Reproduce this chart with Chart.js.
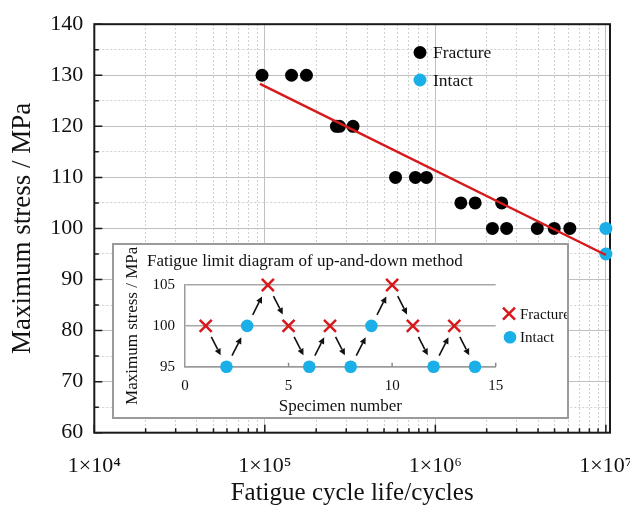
<!DOCTYPE html>
<html><head><meta charset="utf-8">
<script src="https://cdn.jsdelivr.net/npm/chart.js@4.4.1/dist/chart.umd.min.js"></script>
<style>
html,body{margin:0;padding:0;background:#fff;}
#wrap{position:relative;width:630px;height:513px;overflow:hidden;}
#main{position:absolute;left:0;top:0;}
#insetBox{position:absolute;left:112px;top:243px;width:453px;height:172px;border:2px solid #9a9a9a;background:#fff;}
#inset{position:absolute;left:0;top:0;}
</style></head>
<body>
<div id="wrap">
<canvas id="main" width="630" height="513"></canvas>
<div id="insetBox"><canvas id="inset" width="453" height="172"></canvas></div>
</div>
<script>
// ---------- main S-N data ----------
const fractureCycles = [9.63e4, 1.434e5, 1.754e5, 2.63e5, 2.74e5, 3.29e5, 5.84e5, 7.64e5, 8.86e5, 1.411e6, 1.712e6, 2.449e6, 2.161e6, 2.618e6, 3.96e6, 4.977e6, 6.145e6];
const fractureStress = [130, 130, 130, 120, 120, 120, 110, 110, 110, 105, 105, 105, 100, 100, 100, 100, 100];
const intactCycles = [1e7, 1e7];
const intactStress = [100, 95];
const fitCycles = [9.37e4, 1e7];
const fitStress = [128.3, 94.8];
const xTickLabels = {4: '1×10⁴', 5: '1×10⁵', 6: '1×10⁶', 7: '1×10⁷'};
const yTickValues = [60, 70, 80, 90, 100, 110, 120, 130, 140];

// ---------- inset up-and-down data ----------
const specimenNo = [1, 2, 3, 4, 5, 6, 7, 8, 9, 10, 11, 12, 13, 14];
const udStress = [100, 95, 100, 105, 100, 95, 100, 95, 100, 105, 100, 95, 100, 95];
const udResult = ['F', 'I', 'I', 'F', 'F', 'I', 'F', 'I', 'I', 'F', 'F', 'I', 'F', 'I'];
const insetXTicks = [0, 5, 10, 15];
const insetYTicks = [95, 100, 105];

const serif = "'Liberation Serif','Times New Roman',serif";
const BLUE = '#1aafe6';
const RED = '#d7191c';
const TXT = '#111';

function decadeInfo(v) {
  const e = Math.floor(Math.log10(v) + 1e-9);
  const s = v / Math.pow(10, e);
  const major = Math.abs(s - 1) < 1e-6;
  const minor = !major && Math.abs(s - Math.round(s)) < 1e-6;
  return {e, major, minor};
}

const mainFrame = {
  id: 'mainFrame',
  beforeDatasetsDraw(chart) {
    const {ctx, chartArea: a, scales} = chart;
    ctx.save();
    ctx.strokeStyle = '#1a1a1a';
    ctx.lineWidth = 1.5;
    ctx.beginPath();
    scales.xMinor.ticks.forEach(t => {
      const d = decadeInfo(t.value);
      if (!d.major && !d.minor) return;
      const px = scales.x.getPixelForValue(t.value);
      const len = d.major ? 8 : 4.5;
      ctx.moveTo(px, a.bottom); ctx.lineTo(px, a.bottom - len);
    });
    scales.yMinor.ticks.forEach(t => {
      const py = scales.y.getPixelForValue(t.value);
      const len = (t.value % 10 === 0) ? 8 : 4.5;
      ctx.moveTo(a.left, py); ctx.lineTo(a.left + len, py);
    });
    ctx.stroke();
    ctx.lineWidth = 2;
    ctx.strokeRect(a.left, a.top, a.right - a.left, a.bottom - a.top);
    ctx.restore();
  },
  afterDatasetsDraw(chart) {
    const {ctx} = chart;
    const ds = chart.data.datasets;
    const items = [ds[1], ds[2]];
    ctx.save();
    ctx.font = '17.5px ' + serif;
    ctx.textBaseline = 'middle';
    ctx.textAlign = 'left';
    items.forEach((d, i) => {
      const y = 52.5 + i * 27.5;
      ctx.fillStyle = d.backgroundColor;
      ctx.beginPath(); ctx.arc(420, y, 6.5, 0, Math.PI * 2); ctx.fill();
      ctx.fillStyle = TXT;
      ctx.fillText(d.label, 433, y + 1);
    });
    ctx.restore();
  }
};

new Chart(document.getElementById('main'), {
  type: 'scatter',
  data: {
    datasets: [
      {type: 'line', label: 'Fit', xAxisID: 'x', yAxisID: 'y',
       data: fitCycles.map((x, i) => ({x, y: fitStress[i]})),
       borderColor: RED, borderWidth: 2.5, pointRadius: 0, fill: false, order: 0, clip: false},
      {label: 'Fracture', xAxisID: 'x', yAxisID: 'y',
       data: fractureCycles.map((x, i) => ({x, y: fractureStress[i]})),
       backgroundColor: '#000', borderWidth: 0, pointRadius: 6.5, order: 1, clip: false},
      {label: 'Intact', xAxisID: 'x', yAxisID: 'y',
       data: intactCycles.map((x, i) => ({x, y: intactStress[i]})),
       backgroundColor: BLUE, borderWidth: 0, pointRadius: 6.5, order: 2, clip: false}
    ]
  },
  options: {
    responsive: false, animation: false,
    layout: {padding: {left: 0, top: 16.7, right: 18, bottom: 0}},
    plugins: {legend: {display: false}, tooltip: {enabled: false}},
    scales: {
      x: {
        type: 'logarithmic', position: 'bottom', min: 1e4, max: 1.057e7,
        afterFit: s => { s.height = 80.3; },
        grid: {color: c => (c.tick && decadeInfo(c.tick.value).major) ? '#c0c0c0' : 'rgba(0,0,0,0)', lineWidth: 1, drawTicks: false},
        border: {display: false},
        ticks: {autoSkip: false, maxRotation: 0, minRotation: 0, padding: 20, color: TXT,
          font: {family: serif, size: 22},
          callback: v => { const d = decadeInfo(v); return (d.major && xTickLabels[d.e]) ? xTickLabels[d.e] : ''; }},
        title: {display: true, text: 'Fatigue cycle life/cycles', color: TXT, font: {family: serif, size: 25}, padding: {top: 0, bottom: 5}}
      },
      xMinor: {
        type: 'logarithmic', position: 'top', min: 1e4, max: 1.057e7,
        afterFit: s => { s.height = 0; },
        ticks: {display: false, autoSkip: false},
        grid: {color: c => (c.tick && decadeInfo(c.tick.value).minor) ? '#d0d0d0' : 'rgba(0,0,0,0)', lineWidth: 1, drawTicks: false},
        border: {display: false, dash: [2, 2]}
      },
      y: {
        type: 'linear', position: 'left', min: 60, max: 140,
        afterFit: s => { s.width = 94.3; },
        afterBuildTicks: s => { s.ticks = yTickValues.map(v => ({value: v})); },
        grid: {color: '#c0c0c0', lineWidth: 1, drawTicks: false},
        border: {display: false},
        ticks: {padding: 11, color: TXT, font: {family: serif, size: 22}},
        title: {display: true, text: 'Maximum stress / MPa', color: TXT, font: {family: serif, size: 27}, padding: {top: 7, bottom: 0}}
      },
      yMinor: {
        type: 'linear', position: 'right', min: 60, max: 140,
        afterFit: s => { s.width = 0; },
        ticks: {display: false, stepSize: 5},
        grid: {color: c => (c.tick && c.tick.value % 10 !== 0) ? '#d0d0d0' : 'rgba(0,0,0,0)', lineWidth: 1, drawTicks: false},
        border: {display: false, dash: [2, 2]}
      }
    }
  },
  plugins: [mainFrame]
});

// ---------- inset ----------
const insetDeco = {
  id: 'insetDeco',
  beforeDatasetsDraw(chart) {
    const {ctx, chartArea: a, scales} = chart;
    ctx.save();
    ctx.strokeStyle = '#8a8a8a';
    ctx.lineWidth = 1.5;
    ctx.beginPath();
    insetXTicks.slice(1).forEach(v => {
      const px = scales.x.getPixelForValue(v);
      ctx.moveTo(px, a.bottom); ctx.lineTo(px, a.bottom - 4);
    });
    ctx.stroke();
    ctx.restore();
  },
  afterDatasetsDraw(chart) {
    const {ctx, scales} = chart;
    ctx.save();
    ctx.strokeStyle = '#111';
    ctx.fillStyle = '#111';
    ctx.lineWidth = 1.6;
    for (let i = 0; i < specimenNo.length - 1; i++) {
      const x0 = scales.x.getPixelForValue(specimenNo[i]);
      const y0 = scales.y.getPixelForValue(udStress[i]);
      const x1 = scales.x.getPixelForValue(specimenNo[i + 1]);
      const y1 = scales.y.getPixelForValue(udStress[i + 1]);
      const sx = x0 + (x1 - x0) * 0.27, sy = y0 + (y1 - y0) * 0.27;
      const ex = x0 + (x1 - x0) * 0.72, ey = y0 + (y1 - y0) * 0.72;
      const ang = Math.atan2(ey - sy, ex - sx);
      const hl = 6.5, hw = 3.2;
      const bx = ex - hl * Math.cos(ang), by = ey - hl * Math.sin(ang);
      ctx.beginPath(); ctx.moveTo(sx, sy); ctx.lineTo(bx, by); ctx.stroke();
      ctx.beginPath();
      ctx.moveTo(ex, ey);
      ctx.lineTo(bx + hw * Math.sin(ang), by - hw * Math.cos(ang));
      ctx.lineTo(bx - hw * Math.sin(ang), by + hw * Math.cos(ang));
      ctx.closePath(); ctx.fill();
    }
    // legend
    const ds = chart.data.datasets;
    ctx.font = '15px ' + serif;
    ctx.textBaseline = 'middle';
    ctx.textAlign = 'left';
    const lx = 395;
    let y = 68.7;
    ctx.strokeStyle = ds[0].borderColor; ctx.lineWidth = 2.5;
    ctx.beginPath();
    ctx.moveTo(lx - 6, y - 6); ctx.lineTo(lx + 6, y + 6);
    ctx.moveTo(lx + 6, y - 6); ctx.lineTo(lx - 6, y + 6);
    ctx.stroke();
    ctx.fillStyle = TXT; ctx.fillText(ds[0].label, 406, y + 1);
    y = 92.3;
    ctx.fillStyle = ds[1].backgroundColor;
    ctx.beginPath(); ctx.arc(lx + 1, y, 6.3, 0, Math.PI * 2); ctx.fill();
    ctx.fillStyle = TXT; ctx.fillText(ds[1].label, 406, y + 1);
    ctx.restore();
  }
};

new Chart(document.getElementById('inset'), {
  type: 'scatter',
  data: {
    datasets: [
      {label: 'Fracture', pointStyle: 'crossRot', pointRadius: 8.5, borderColor: RED, backgroundColor: RED, borderWidth: 2.5, clip: false,
       data: specimenNo.map((x, i) => ({x, y: udStress[i], r: udResult[i]})).filter(p => p.r === 'F')},
      {label: 'Intact', pointStyle: 'circle', pointRadius: 6.3, backgroundColor: BLUE, borderWidth: 0, clip: false,
       data: specimenNo.map((x, i) => ({x, y: udStress[i], r: udResult[i]})).filter(p => p.r === 'I')}
    ]
  },
  options: {
    responsive: false, animation: false,
    layout: {padding: {left: 0, right: 71.3, top: 0, bottom: 0}},
    plugins: {
      legend: {display: false}, tooltip: {enabled: false},
      title: {display: true, text: 'Fatigue limit diagram of up-and-down method', color: TXT,
        font: {family: serif, size: 17, weight: 'normal'}, padding: {top: 6.5, bottom: 13.1}}
    },
    scales: {
      x: {
        type: 'linear', min: 0, max: 15,
        afterFit: s => { s.height = 50.3; },
        afterBuildTicks: s => { s.ticks = insetXTicks.map(v => ({value: v})); },
        grid: {drawOnChartArea: false, drawTicks: false},
        border: {display: true, color: '#9a9a9a', width: 1.5},
        ticks: {padding: 10, color: TXT, font: {family: serif, size: 15}},
        title: {display: true, text: 'Specimen number', color: TXT, font: {family: serif, size: 17}, padding: {top: 0, bottom: 0}}
      },
      y: {
        type: 'linear', min: 95, max: 105,
        afterFit: s => { s.width = 71; },
        afterBuildTicks: s => { s.ticks = insetYTicks.map(v => ({value: v})); },
        grid: {color: '#a8a8a8', lineWidth: 1.5, drawTicks: false},
        border: {display: true, color: '#9a9a9a', width: 1.5},
        ticks: {padding: 10, color: TXT, font: {family: serif, size: 15}},
        title: {display: true, text: 'Maximum stress / MPa', color: TXT, font: {family: serif, size: 17}, padding: {top: 8.8, bottom: 0}}
      }
    }
  },
  plugins: [insetDeco]
});
</script>
</body></html>
